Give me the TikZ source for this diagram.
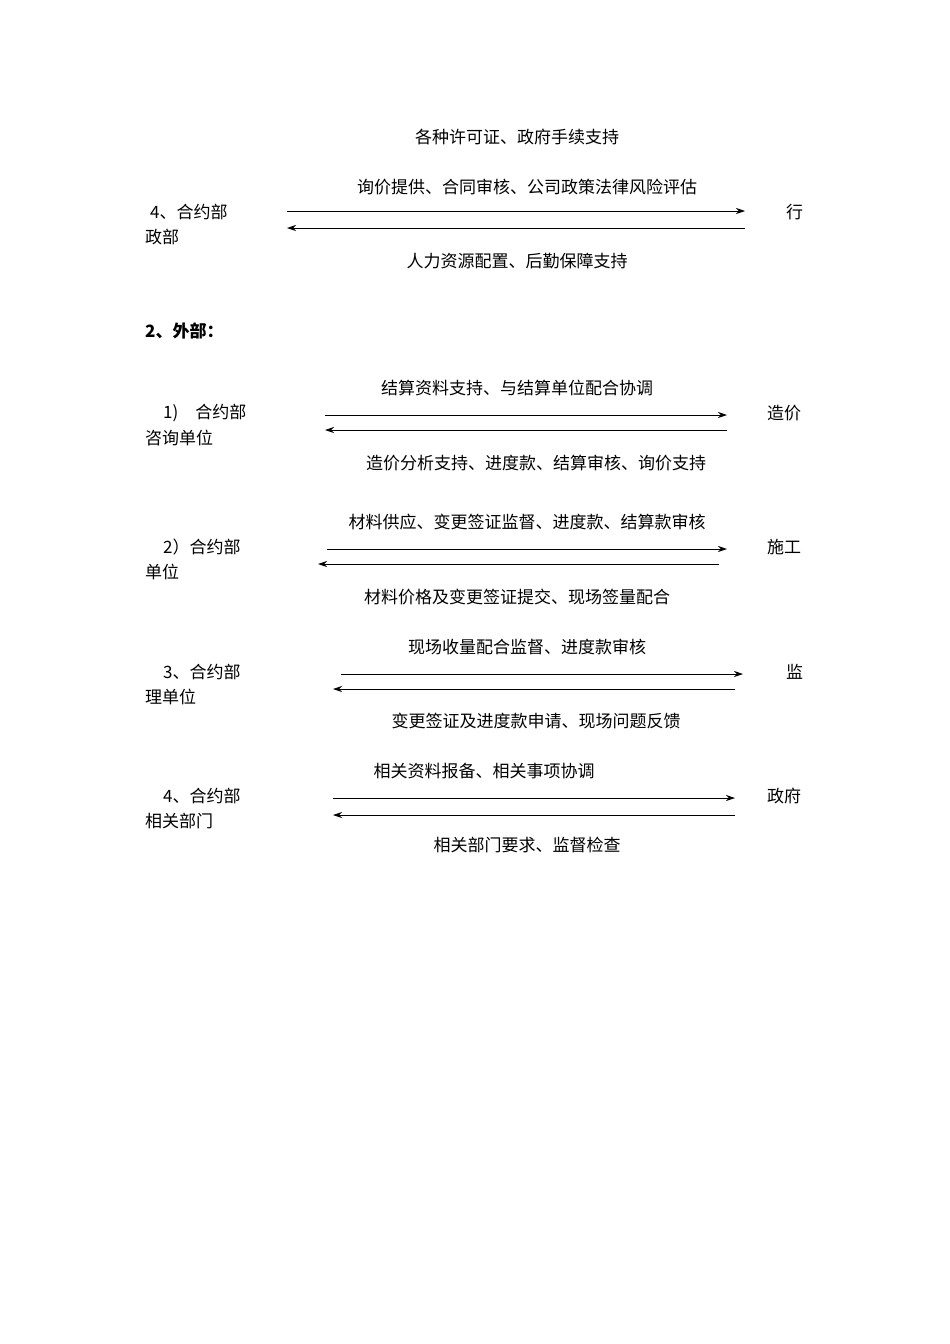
\documentclass[tikz,border=0pt]{standalone}
\usepackage{fontspec}
\setmainfont{Noto Sans CJK SC}
\usetikzlibrary{arrows.meta}
\begin{document}
\begin{tikzpicture}[x=1pt,y=-1pt,
  txt/.style={inner sep=0pt,font=\fontsize{17}{20}\selectfont},
  lt/.style={txt,anchor=west},
  arr/.style={-{Stealth[length=9pt,width=6pt]},line width=0.8pt}]
\useasboundingbox (0,0) rectangle (950,1344);
% section 4 internal
\node[txt] (t0) at (517,137) {各种许可证、政府手续支持};
\node[txt] (t1) at (527,187) {询价提供、合同审核、公司政策法律风险评估};
\node[lt] (l1) at (150,212) {4、合约部};
\node[lt] (l1b) at (145,237) {政部};
\node[lt] (r1) at (786,212) {行};
\coordinate (a1) at (287,211); \coordinate (b1) at (745,211);
\coordinate (a1r) at (745,228); \coordinate (b1r) at (287,228);
\draw[arr] (a1) -- (b1); \draw[arr] (a1r) -- (b1r);
\node[txt] (t2) at (517,261) {人力资源配置、后勤保障支持};
\node[lt,font=\fontsize{17}{20}\selectfont\bfseries] (h) at (145,331) {2、外部：};
% group 1
\node[txt] (g1t) at (517,388) {结算资料支持、与结算单位配合协调};
\node[lt] (g1l) at (163,413) {1)\quad 合约部};
\node[lt] (g1lb) at (145,438) {咨询单位};
\node[lt] (g1r) at (767,413) {造价};
\coordinate (p1) at (325,415); \coordinate (q1) at (727,415);
\coordinate (p1r) at (727,430); \coordinate (q1r) at (325,430);
\draw[arr] (p1) -- (q1); \draw[arr] (p1r) -- (q1r);
\node[txt] (g1b) at (536,463) {造价分析支持、进度款、结算审核、询价支持};
% group 2
\node[txt] (g2t) at (527,522) {材料供应、变更签证监督、进度款、结算款审核};
\node[lt] (g2l) at (163,547) {2）合约部};
\node[lt] (g2lb) at (145,572) {单位};
\node[lt] (g2r) at (767,547) {施工};
\coordinate (p2) at (327,549); \coordinate (q2) at (727,549);
\coordinate (p2r) at (719,564); \coordinate (q2r) at (318,564);
\draw[arr] (p2) -- (q2); \draw[arr] (p2r) -- (q2r);
\node[txt] (g2b) at (517,597) {材料价格及变更签证提交、现场签量配合};
% group 3
\node[txt] (g3t) at (527,647) {现场收量配合监督、进度款审核};
\node[lt] (g3l) at (163,672) {3、合约部};
\node[lt] (g3lb) at (145,697) {理单位};
\node[lt] (g3r) at (786,672) {监};
\coordinate (p3) at (341,674); \coordinate (q3) at (743,674);
\coordinate (p3r) at (735,689); \coordinate (q3r) at (333,689);
\draw[arr] (p3) -- (q3); \draw[arr] (p3r) -- (q3r);
\node[txt] (g3b) at (536,721) {变更签证及进度款申请、现场问题反馈};
% group 4
\node[txt] (g4t) at (484,771) {相关资料报备、相关事项协调};
\node[lt] (g4l) at (163,796) {4、合约部};
\node[lt] (g4lb) at (145,821) {相关部门};
\node[lt] (g4r) at (767,796) {政府};
\coordinate (p4) at (333,798); \coordinate (q4) at (735,798);
\coordinate (p4r) at (735,815); \coordinate (q4r) at (333,815);
\draw[arr] (p4) -- (q4); \draw[arr] (p4r) -- (q4r);
\node[txt] (g4b) at (527,845) {相关部门要求、监督检查};
\end{tikzpicture}
\end{document}
